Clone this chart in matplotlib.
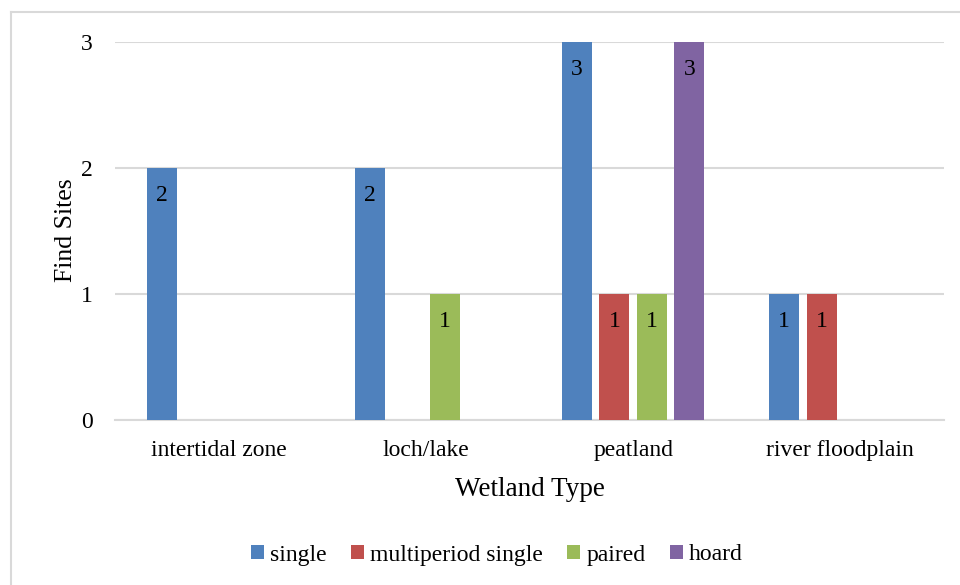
import matplotlib

matplotlib.use("Agg")
import matplotlib.pyplot as plt
import numpy as np
from matplotlib.lines import Line2D
from matplotlib.patches import Patch

categories = ["intertidal zone", "loch/lake", "peatland", "river floodplain"]
series_names = ["single", "multiperiod single", "paired", "hoard"]
single = [2, 2, 3, 1]
multiperiod_single = [0, 0, 1, 1]
paired = [0, 1, 1, 0]
hoard = [0, 0, 3, 0]
y_ticks = [0, 1, 2, 3]

COLORS = ["#4F81BD", "#C0504D", "#9BBB59", "#8064A2"]
GRID = "#D9D9D9"

plt.rcParams["font.family"] = ["Liberation Serif", "DejaVu Serif"]

W, H = 960, 585
fig = plt.figure(figsize=(W / 100, H / 100), dpi=100)
ax = fig.add_axes([115 / W, 1 - 419.5 / H, (944 - 115) / W, (419.5 - 41.5) / H])

x = np.arange(len(categories))
width = 0.145
step = 0.181
values = [single, multiperiod_single, paired, hoard]
for i, (name, vals, color) in enumerate(zip(series_names, values, COLORS)):
    pos = x + (i - 1.5) * step
    bars = ax.bar(pos, vals, width=width, color=color, label=name, zorder=3)
    for rect, v in zip(bars, vals):
        if v > 0:
            ax.annotate(
                str(v),
                (rect.get_x() + rect.get_width() / 2, v),
                xytext=(0, -20),
                textcoords="offset points",
                ha="center",
                va="center",
                fontsize=17,
                color="black",
                zorder=4,
            )

ax.set_xlim(-0.5, len(categories) - 0.5)
ax.set_ylim(0, 3)
ax.set_yticks(y_ticks)
ax.yaxis.grid(True, color=GRID, linewidth=1.5, zorder=0)
ax.set_xticks(x)
ax.set_xticklabels(categories, fontsize=17)
ax.tick_params(axis="y", labelsize=17, length=0, pad=16)
ax.tick_params(axis="x", length=0, pad=15)
for side in ["top", "right", "left"]:
    ax.spines[side].set_visible(False)
ax.spines["bottom"].set_color(GRID)
ax.spines["bottom"].set_linewidth(1.5)

ax.set_xlabel("Wetland Type", fontsize=19.5, labelpad=11)
ax.set_ylabel("Find Sites", fontsize=18.5, labelpad=3)

handles = [Patch(facecolor=c, label=n) for n, c in zip(series_names, COLORS)]
fig.legend(
    handles=handles,
    loc="center",
    bbox_to_anchor=(497 / W, 1 - 555 / H),
    ncol=4,
    frameon=False,
    fontsize=17,
    handlelength=0.55,
    handleheight=0.55,
    handletextpad=0.25,
    columnspacing=1.03,
)

# outer chart border (top and left visible)
fig.add_artist(Line2D([11 / W, 1], [1 - 12 / H] * 2, color=GRID, linewidth=1.5))
fig.add_artist(Line2D([11 / W] * 2, [0, 1 - 12 / H], color=GRID, linewidth=1.5))

fig.savefig("out.png", dpi=100, facecolor="white")
